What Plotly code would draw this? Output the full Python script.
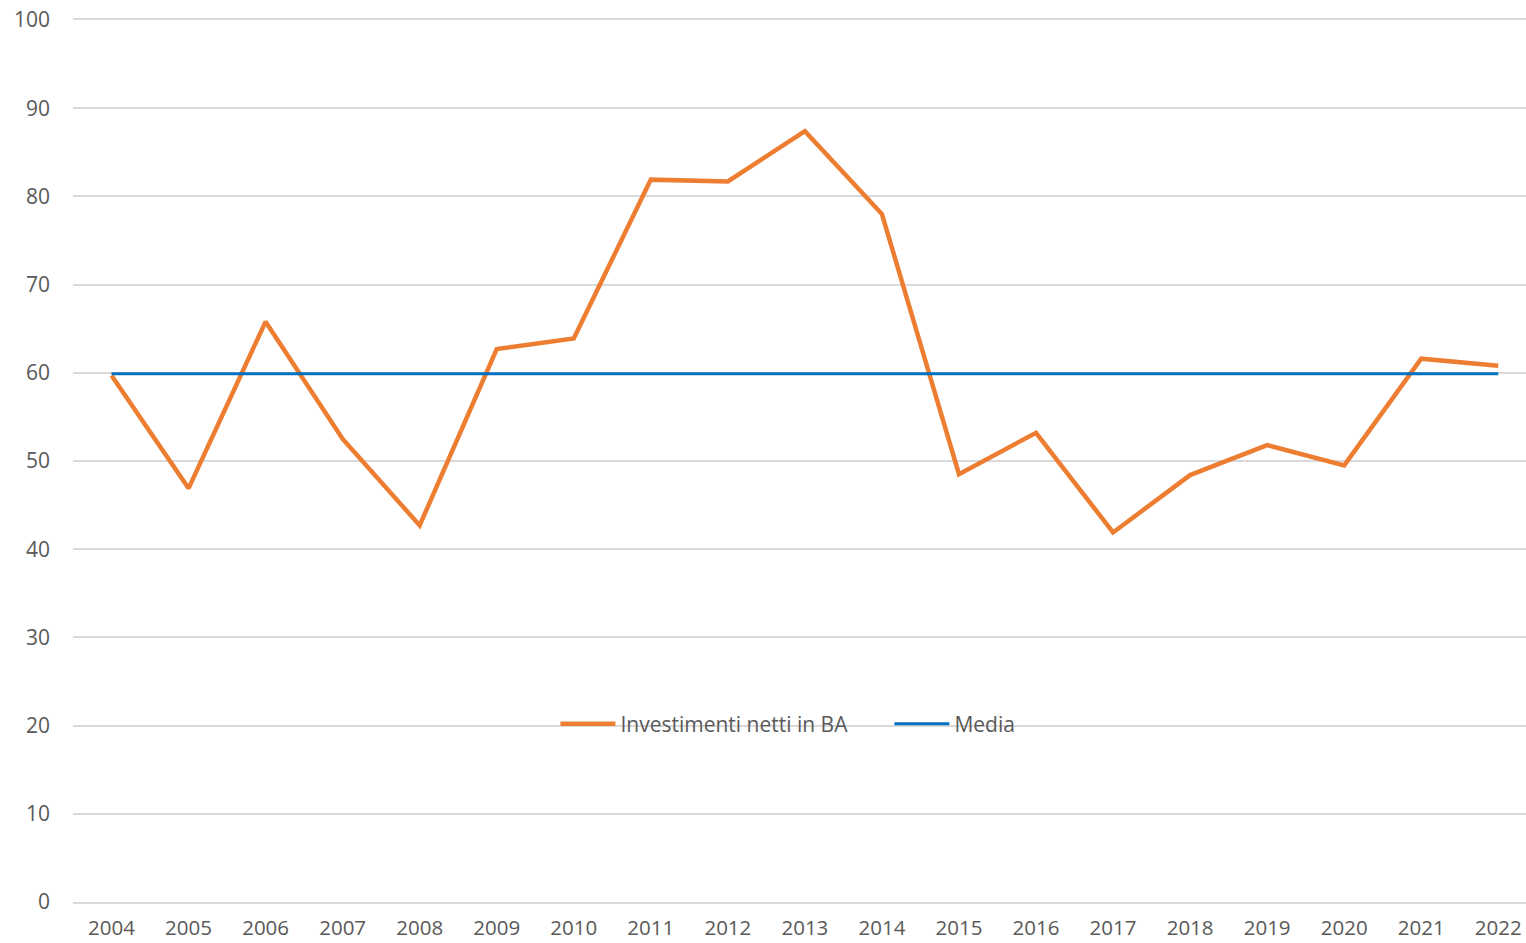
import plotly.graph_objects as go

years = ["2004", "2005", "2006", "2007", "2008", "2009", "2010", "2011", "2012", "2013",
         "2014", "2015", "2016", "2017", "2018", "2019", "2020", "2021", "2022"]
investimenti = [59.7, 46.9, 65.8, 52.5, 42.7, 62.7, 63.9, 81.9, 81.7, 87.4,
                78.0, 48.5, 53.2, 41.9, 48.4, 51.8, 49.5, 61.6, 60.8]
media = [59.9, 59.9, 59.9, 59.9, 59.9, 59.9, 59.9, 59.9, 59.9, 59.9,
         59.9, 59.9, 59.9, 59.9, 59.9, 59.9, 59.9, 59.9, 59.9]
y_ticks = [0, 10, 20, 30, 40, 50, 60, 70, 80, 90, 100]

fig = go.Figure()
fig.add_trace(go.Scatter(x=years, y=investimenti, mode="lines", name="Investimenti netti in BA",
                         line=dict(color="#ED7D31", width=4.5)))
fig.add_trace(go.Scatter(x=years, y=media, mode="lines", name="Media",
                         line=dict(color="#0070C0", width=3)))

font_family = "Open Sans, Liberation Sans, sans-serif"
fig.update_layout(
    width=1526, height=943,
    margin=dict(l=73, r=0, t=20, b=41),
    plot_bgcolor="white", paper_bgcolor="white",
    font=dict(family=font_family, size=21, color="#595959"),
    showlegend=True,
    legend=dict(orientation="h", x=0.332, y=0.2016, xanchor="left", yanchor="middle",
                bgcolor="rgba(0,0,0,0)", font=dict(size=21, color="#595959"),
                itemwidth=55, entrywidth=264, entrywidthmode="pixels",
                tracegroupgap=0, traceorder="normal"),
    xaxis=dict(type="category", range=[-0.5, 18.36], showgrid=False, zeroline=False,
               showline=True, linecolor="#D9D9D9", linewidth=1.5, mirror=True,
               ticks="", ticklabelstandoff=7, automargin=False,
               ticklabeloverflow="allow",
               tickfont=dict(size=20.5, color="#595959")),
    yaxis=dict(range=[0, 100], tickvals=y_ticks, showgrid=True, gridcolor="#D9D9D9",
               gridwidth=1.5, zeroline=False, showline=False, ticks="",
               ticklabeloverflow="allow", automargin=False,
               ticklabelstandoff=22, tickfont=dict(size=21, color="#595959")),
)
fig.write_html("out.html", config={"displayModeBar": False},
               post_script="document.body.style.margin='0';document.body.style.overflow='hidden';")
